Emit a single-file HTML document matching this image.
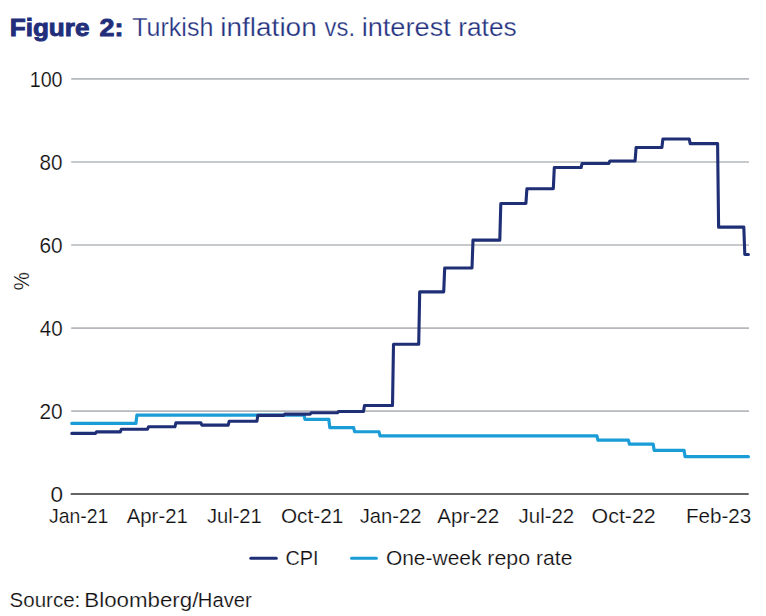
<!DOCTYPE html>
<html lang="en">
<head>
<meta charset="utf-8">
<title>Figure 2: Turkish inflation vs. interest rates</title>
<style>
  html, body { margin:0; padding:0; background:#ffffff; }
  body { width:766px; height:616px; overflow:hidden; }
  svg { display:block; }
  text { font-family:"Liberation Sans", sans-serif; }
  .lbl text { fill:#100e0f; stroke:#ffffff; stroke-width:0.2px; }
  .thin { stroke:#ffffff; stroke-width:0.25px; }
</style>
</head>
<body>
<svg width="766" height="616" viewBox="0 0 766 616">
<rect x="0" y="0" width="766" height="616" fill="#ffffff"/>

<!-- title -->
<text y="35.5" font-size="25.2" fill="#222e7a"><tspan x="9.7" textLength="79.84" lengthAdjust="spacingAndGlyphs" font-weight="bold" stroke="#222e7a" stroke-width="0.9" font-size="24.5">Figure</tspan> <tspan x="99.62" textLength="23.92" lengthAdjust="spacingAndGlyphs" font-weight="bold" stroke="#222e7a" stroke-width="0.9" font-size="24.5">2:</tspan> <tspan x="132.24" textLength="81.09" lengthAdjust="spacingAndGlyphs" class="thin" fill="#25327f">Turkish</tspan> <tspan x="220.33" textLength="96.39" lengthAdjust="spacingAndGlyphs" class="thin" fill="#25327f">inflation</tspan> <tspan x="324.62" textLength="30.46" lengthAdjust="spacingAndGlyphs" class="thin" fill="#25327f">vs.</tspan> <tspan x="361.68" textLength="89.12" lengthAdjust="spacingAndGlyphs" class="thin" fill="#25327f">interest</tspan> <tspan x="458.26" textLength="58.39" lengthAdjust="spacingAndGlyphs" class="thin" fill="#25327f">rates</tspan></text>

<!-- gridlines + axis -->
<line x1="71.2" y1="411.14" x2="749.0" y2="411.14" stroke="#b5b8bc" stroke-width="1.6"/>
<line x1="71.2" y1="328.08" x2="749.0" y2="328.08" stroke="#b5b8bc" stroke-width="1.6"/>
<line x1="71.2" y1="245.02" x2="749.0" y2="245.02" stroke="#b5b8bc" stroke-width="1.6"/>
<line x1="71.2" y1="161.96" x2="749.0" y2="161.96" stroke="#b5b8bc" stroke-width="1.6"/>
<line x1="71.2" y1="78.9" x2="749.0" y2="78.9" stroke="#b5b8bc" stroke-width="1.6"/>
<line x1="70.7" y1="494" x2="748.7" y2="494" stroke="#646466" stroke-width="2"/>

<!-- series -->
<path d="M71.8,423.45 L135.9,423.45 L136.9,415.14 L304.0,415.14 L305.0,419.3 L328.8,419.3 L329.8,427.6 L353.6,427.6 L354.6,431.75 L379.0,431.75 L380.0,435.91 L596.9,435.91 L597.9,440.06 L628.4,440.06 L629.4,444.21 L653.2,444.21 L654.2,450.44 L684.1,450.44 L685.1,456.67 L748.4,456.67" fill="none" stroke="#1a9dd6" stroke-width="3.2" stroke-linejoin="round" stroke-linecap="round"/>
<path d="M71.8,433.42 L95.5,433.42 L96.5,431.88 L120.3,431.88 L121.3,429.22 L147.5,429.22 L148.5,426.81 L174.9,426.81 L175.9,422.87 L200.9,422.87 L201.9,425.15 L228.2,425.15 L229.2,421.25 L256.9,421.25 L257.9,415.35 L283.7,415.35 L284.7,414.1 L310.2,414.1 L311.2,412.73 L337.5,412.73 L338.5,411.45 L363.5,411.45 L364.5,405.55 L392.5,405.55 L393.5,344.21 L418.7,344.21 L419.7,291.84 L443.7,291.84 L444.7,267.96 L472.0,267.96 L473.0,240.14 L499.8,240.14 L500.8,203.46 L525.9,203.46 L526.9,188.8 L553.3,188.8 L554.3,167.54 L581.1,167.54 L582.1,163.47 L608.9,163.47 L609.9,160.94 L635.1,160.94 L636.1,147.48 L661.9,147.48 L662.9,138.93 L689.2,138.93 L690.2,143.58 L717.6,143.58 L718.6,227.14 L743.8,227.14 L744.8,254.5 L748.4,254.5" fill="none" stroke="#1f2f76" stroke-width="3.1" stroke-linejoin="round" stroke-linecap="round"/>

<g class="lbl">
<!-- y axis labels -->
<text y="87.1" font-size="21.3"><tspan x="29.7" textLength="32.87" lengthAdjust="spacingAndGlyphs">100</tspan></text>
<text y="170.16" font-size="21.3"><tspan x="39.6" textLength="23.01" lengthAdjust="spacingAndGlyphs">80</tspan></text>
<text y="253.22" font-size="21.3"><tspan x="39.44" textLength="23.17" lengthAdjust="spacingAndGlyphs">60</tspan></text>
<text y="336.28" font-size="21.3"><tspan x="39.73" textLength="22.87" lengthAdjust="spacingAndGlyphs">40</tspan></text>
<text y="419.34" font-size="21.3"><tspan x="39.45" textLength="23.16" lengthAdjust="spacingAndGlyphs">20</tspan></text>
<text y="501.7" font-size="21.3"><tspan x="50.52" textLength="12.56" lengthAdjust="spacingAndGlyphs">0</tspan></text>
<!-- x axis labels -->
<text y="523.4" font-size="21.1"><tspan x="49.0" textLength="59.35" lengthAdjust="spacingAndGlyphs">Jan-21</tspan></text>
<text y="523.4" font-size="21.1"><tspan x="126.76" textLength="61.03" lengthAdjust="spacingAndGlyphs">Apr-21</tspan></text>
<text y="523.4" font-size="21.1"><tspan x="206.88" textLength="54.9" lengthAdjust="spacingAndGlyphs">Jul-21</tspan></text>
<text y="523.4" font-size="21.1"><tspan x="280.92" textLength="62.4" lengthAdjust="spacingAndGlyphs">Oct-21</tspan></text>
<text y="523.4" font-size="21.1"><tspan x="359.68" textLength="61.73" lengthAdjust="spacingAndGlyphs">Jan-22</tspan></text>
<text y="523.4" font-size="21.1"><tspan x="437.36" textLength="61.78" lengthAdjust="spacingAndGlyphs">Apr-22</tspan></text>
<text y="523.4" font-size="21.1"><tspan x="518.58" textLength="55.65" lengthAdjust="spacingAndGlyphs">Jul-22</tspan></text>
<text y="523.4" font-size="21.1"><tspan x="591.59" textLength="64.19" lengthAdjust="spacingAndGlyphs">Oct-22</tspan></text>
<text y="523.4" font-size="21.1"><tspan x="685.91" textLength="65.4" lengthAdjust="spacingAndGlyphs">Feb-23</tspan></text>
<text transform="translate(29.3,290.2) rotate(-90)" textLength="18.2" lengthAdjust="spacingAndGlyphs" font-size="22.6">%</text>

<!-- legend -->
<line x1="250.8" y1="558.3" x2="276.3" y2="558.3" stroke="#1f2f76" stroke-width="3.0" stroke-linecap="round"/>
<text y="565.0" font-size="21.0"><tspan x="285.49" textLength="33.14" lengthAdjust="spacingAndGlyphs">CPI</tspan></text>
<line x1="351.5" y1="558.3" x2="376.4" y2="558.3" stroke="#1a9dd6" stroke-width="3.0" stroke-linecap="round"/>
<text y="565.0" font-size="20.4"><tspan x="385.91" textLength="95.56" lengthAdjust="spacingAndGlyphs">One-week</tspan> <tspan x="487.38" textLength="42.71" lengthAdjust="spacingAndGlyphs">repo</tspan> <tspan x="536.1" textLength="36.34" lengthAdjust="spacingAndGlyphs">rate</tspan></text>

<!-- source -->
<text y="606.6" font-size="20.0"><tspan x="9.57" textLength="70.7" lengthAdjust="spacingAndGlyphs">Source:</tspan> <tspan x="84.37" textLength="114.03" lengthAdjust="spacingAndGlyphs">Bloomberg/</tspan><tspan x="197.84" textLength="53.89" lengthAdjust="spacingAndGlyphs">Haver</tspan></text>
</g>
</svg>
</body>
</html>
